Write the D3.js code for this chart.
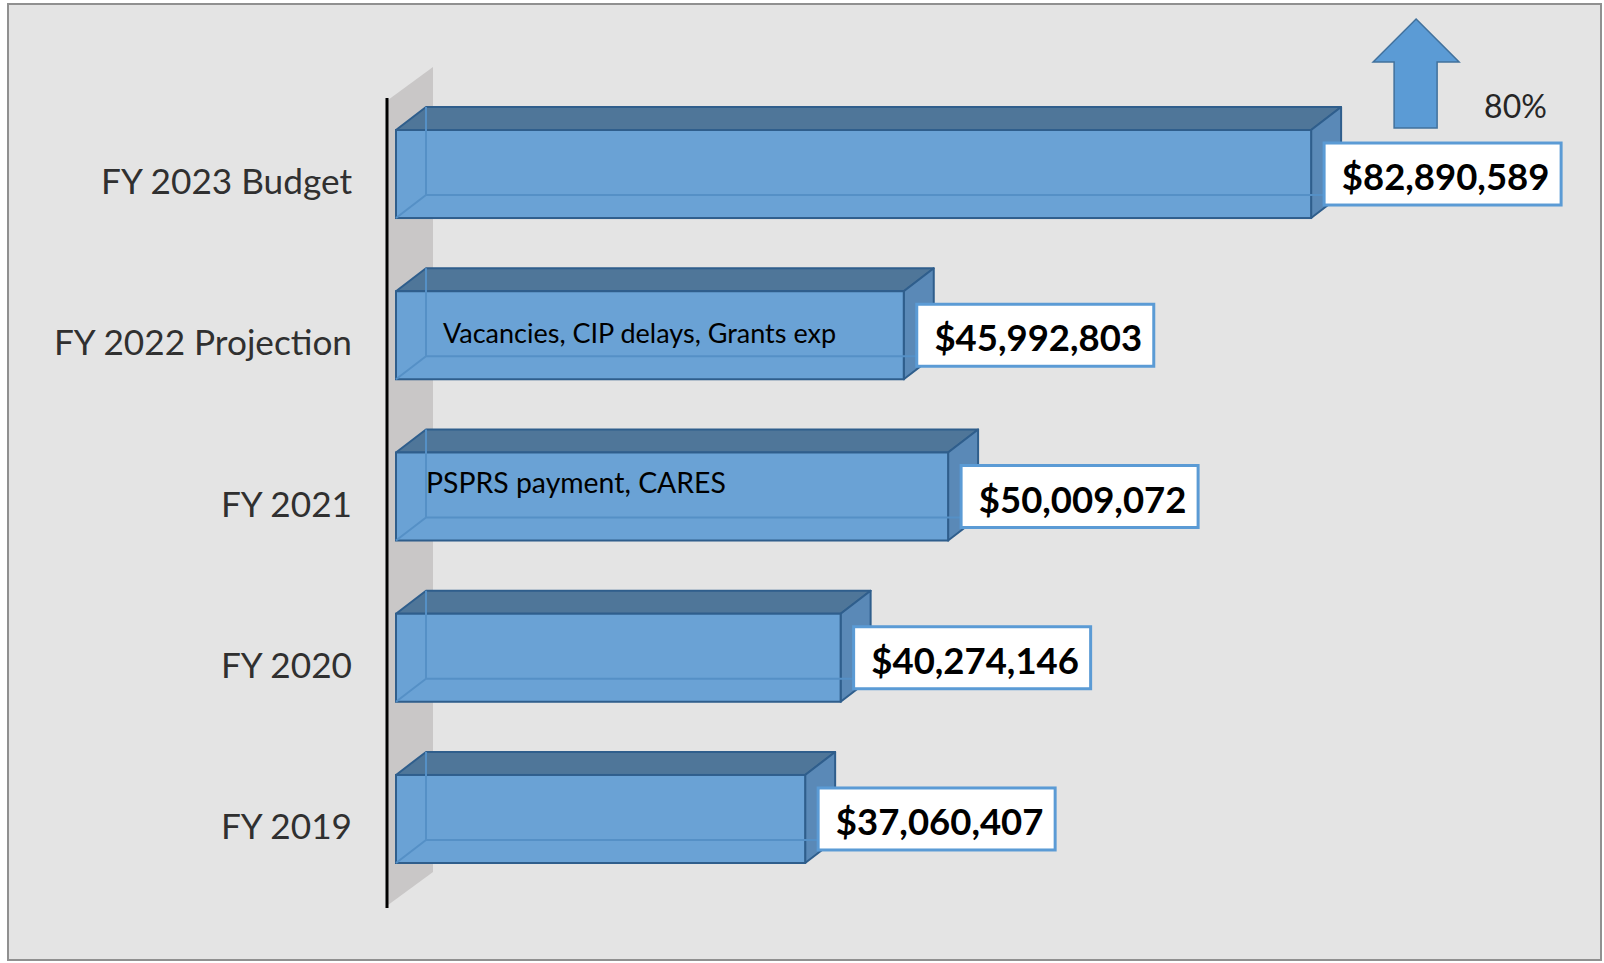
<!DOCTYPE html>
<html>
<head>
<meta charset="utf-8">
<script src="https://cdn.jsdelivr.net/npm/d3@7"></script>
<style>
  html, body { margin: 0; padding: 0; background: #ffffff; }
  svg { display: block; font-family: Lato, "Noto Sans", sans-serif; }
</style>
</head>
<body>
<div id="chart"></div>
<script>
// data
const categories = ["FY 2023 Budget", "FY 2022 Projection", "FY 2021", "FY 2020", "FY 2019"];
const values = [82890589, 45992803, 50009072, 40274146, 37060407];
const noteCategories = ["FY 2022 Projection", "FY 2021"];
const noteTexts = ["Vacancies, CIP delays, Grants exp", "PSPRS payment, CARES"];
const growthLabel = "80%";

const width = 1604, height = 963;

const svg = d3.select("#chart").append("svg")
  .attr("width", width)
  .attr("height", height);

// frame
svg.append("rect")
  .attr("x", 8).attr("y", 4)
  .attr("width", 1593).attr("height", 956)
  .attr("fill", "#e4e4e4")
  .attr("stroke", "#909090")
  .attr("stroke-width", 2);

// scales
const x = d3.scaleLinear().domain([0, 100e6]).range([396, 1500]);
const y = d3.scaleBand().domain(categories)
  .range([93.4, 899.6])
  .paddingInner(0.454)
  .paddingOuter(0.227);

const dx = 30, dy = -23;   // bar depth
const wdx = 45, wdy = -33; // wall depth

// side wall
const wallTop = 100, wallBottom = 905, wallX = 388;
svg.append("path")
  .attr("d", `M${wallX},${wallTop} L${wallX + wdx},${wallTop + wdy} L${wallX + wdx},${wallBottom + wdy} L${wallX},${wallBottom} Z`)
  .attr("fill", "#c9c7c7");

// axis line
svg.append("line")
  .attr("x1", 387).attr("x2", 387)
  .attr("y1", 98).attr("y2", 908)
  .attr("stroke", "#000")
  .attr("stroke-width", 3);

// category labels
svg.append("g").selectAll("text")
  .data(categories)
  .join("text")
  .attr("x", 352)
  .attr("y", d => y(d) + y.bandwidth() / 2 + 20)
  .attr("text-anchor", "end")
  .attr("font-size", 35.2)
  .attr("fill", "#303030")
  .text(d => d);

const data = categories.map((c, i) => ({ name: c, value: values[i] }));

const bars = svg.append("g").selectAll("g")
  .data(data)
  .join("g");

const edge = "#2f5e8c";

// top face
bars.append("path")
  .attr("d", d => {
    const x0 = x(0), x1 = x(d.value), y0 = y(d.name);
    return `M${x0},${y0} L${x0 + dx},${y0 + dy} L${x1 + dx},${y0 + dy} L${x1},${y0} Z`;
  })
  .attr("fill", "#4f7699")
  .attr("stroke", edge)
  .attr("stroke-width", 2)
  .attr("stroke-linejoin", "round");

// right side face
bars.append("path")
  .attr("d", d => {
    const x1 = x(d.value), y0 = y(d.name), h = y.bandwidth();
    return `M${x1},${y0} L${x1 + dx},${y0 + dy} L${x1 + dx},${y0 + h + dy} L${x1},${y0 + h} Z`;
  })
  .attr("fill", "#5a89b7")
  .attr("stroke", edge)
  .attr("stroke-width", 2)
  .attr("stroke-linejoin", "round");

// front face
bars.append("rect")
  .attr("x", x(0))
  .attr("y", d => y(d.name))
  .attr("width", d => x(d.value) - x(0))
  .attr("height", y.bandwidth())
  .attr("fill", "#6aa2d5")
  .attr("stroke", edge)
  .attr("stroke-width", 2);

// hidden back edges seen through the front
bars.append("path")
  .attr("d", d => {
    const x0 = x(0), x1 = x(d.value), y0 = y(d.name), h = y.bandwidth();
    return `M${x0 + dx},${y0 + dy} L${x0 + dx},${y0 + h + dy} L${x1 + dx},${y0 + h + dy} M${x0},${y0 + h} L${x0 + dx},${y0 + h + dy}`;
  })
  .attr("fill", "none")
  .attr("stroke", "#5590c6")
  .attr("stroke-width", 2);

// value labels
const fmt = d3.format("$,");
const boxW = 237, boxH = 62;
const labels = bars.append("g")
  .attr("transform", d => `translate(${x(d.value) + 13},${y(d.name) + y.bandwidth() / 2 - boxH / 2})`);

labels.append("rect")
  .attr("width", boxW).attr("height", boxH)
  .attr("fill", "#ffffff")
  .attr("stroke", "#5b9bd5")
  .attr("stroke-width", 3);

labels.append("text")
  .attr("x", boxW / 2 + 3)
  .attr("y", boxH / 2 + 16)
  .attr("text-anchor", "middle")
  .attr("font-size", 36.5)
  .attr("font-weight", "bold")
  .attr("fill", "#000")
  .text(d => fmt(d.value));

// notes inside bars
const noteOffsets = [[47, 52], [30, 41]];
const noteSizes = [27, 28.4];
svg.append("g").selectAll("text")
  .data(noteTexts)
  .join("text")
  .attr("x", (d, i) => x(0) + noteOffsets[i][0])
  .attr("y", (d, i) => y(noteCategories[i]) + noteOffsets[i][1])
  .attr("font-size", (d, i) => noteSizes[i])
  .attr("fill", "#000")
  .text(d => d);

// growth arrow above the top bar
const first = data[0];
const ax = x(first.value) + 105, ay = y(first.name) - 111;
svg.append("path")
  .attr("d", `M${ax},${ay} L${ax + 43},${ay + 43} L${ax + 21},${ay + 43} L${ax + 21},${ay + 109} L${ax - 22},${ay + 109} L${ax - 22},${ay + 43} L${ax - 43},${ay + 43} Z`)
  .attr("fill", "#5b9bd5")
  .attr("stroke", "#41719c")
  .attr("stroke-width", 1.5);

svg.append("text")
  .attr("x", ax + 68)
  .attr("y", ay + 99)
  .attr("font-size", 32)
  .attr("fill", "#262626")
  .text(growthLabel);
</script>
</body>
</html>
